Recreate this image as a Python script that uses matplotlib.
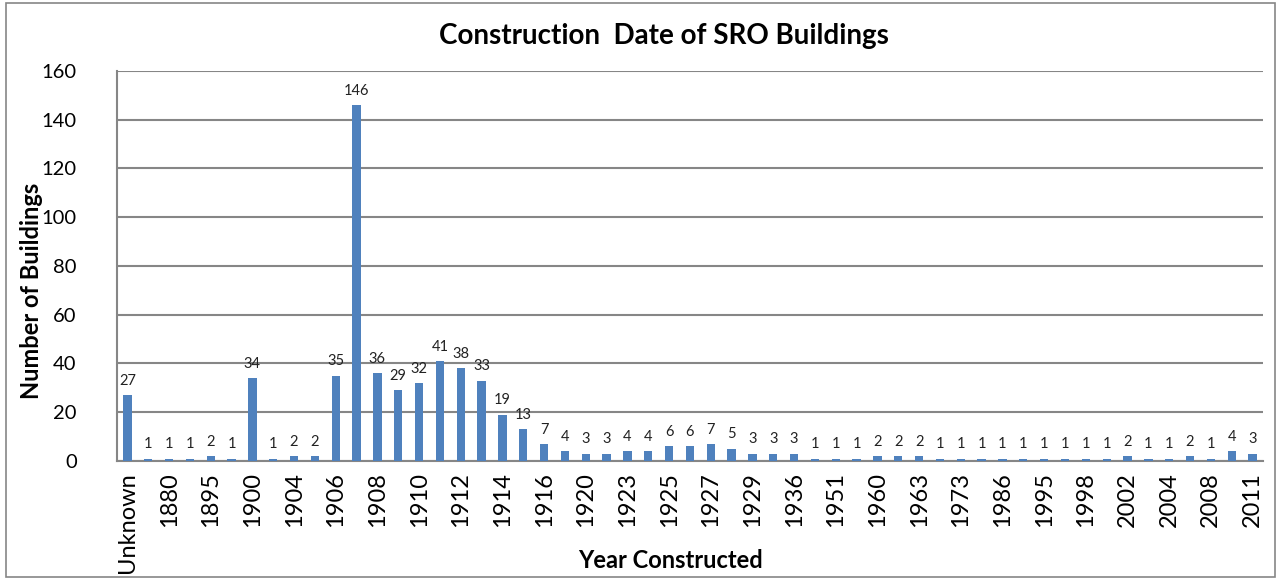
import numpy as np
import matplotlib.pyplot as plt

plt.rcParams['font.family'] = ['Lato', 'DejaVu Sans']

# years; only every other one is labelled on the axis
years = ['Unknown', '1875', '1880', '1890', '1895', '1898', '1900', '1903', '1904', '1905',
         '1906', '1907', '1908', '1909', '1910', '1911', '1912', '1913', '1914', '1915',
         '1916', '1918', '1920', '1922', '1923', '1924', '1925', '1926', '1927', '1928',
         '1929', '1930', '1936', '1940', '1951', '1955', '1960', '1962', '1963', '1970',
         '1973', '1980', '1986', '1990', '1995', '1997', '1998', '2000', '2002', '2003',
         '2004', '2005', '2008', '2010', '2011']
counts = [27, 1, 1, 1, 2, 1, 34, 1, 2, 2,
          35, 146, 36, 29, 32, 41, 38, 33, 19, 13,
          7, 4, 3, 3, 4, 4, 6, 6, 7, 5,
          3, 3, 3, 1, 1, 1, 2, 2, 2, 1,
          1, 1, 1, 1, 1, 1, 1, 1, 2, 1,
          1, 2, 1, 4, 3]

fig = plt.figure(figsize=(12.81, 5.8), dpi=100)
ax = fig.add_axes([0.0913, 0.2052, 0.8946, 0.6724])

x = np.arange(len(counts))
ax.bar(x, counts, width=0.4, color='#4F81BD', zorder=3)
for xi, v in zip(x, counts):
    ax.text(xi, v + 3, str(v), ha='center', va='bottom', fontsize=10.5, color='#222222')

ax.set_xlim(-0.5, len(counts) - 0.5)
ax.set_ylim(0, 160)
ax.set_yticks(np.arange(0, 161, 20))
ax.set_xticks(x[::2])
ax.set_xticklabels(years[::2], rotation=90, fontsize=17)
ax.tick_params(axis='y', labelsize=14.5, length=0, pad=29)
ax.tick_params(axis='x', length=0, pad=8)
ax.yaxis.grid(True, color='#868686', linewidth=1.5, zorder=0)

for s in ['top', 'right']:
    ax.spines[s].set_visible(False)
for s in ['left', 'bottom']:
    ax.spines[s].set_color('#868686')
    ax.spines[s].set_linewidth(1.5)

fig.text(664 / 1281, 1 - 36 / 580, 'Construction  Date of SRO Buildings',
         fontsize=20, fontweight='bold', ha='center', va='center')
fig.text(32 / 1281, 1 - 291 / 580, 'Number of Buildings', rotation=90,
         fontsize=17, fontweight='bold', ha='center', va='center')
fig.text(670 / 1281, 1 - 560 / 580, 'Year Constructed',
         fontsize=17, fontweight='bold', ha='center', va='center')

# outer chart border
fig.patches.append(plt.Rectangle((0.005, 0.005), 0.99, 0.99, transform=fig.transFigure,
                                 fill=False, edgecolor='#868686', linewidth=1.2))

fig.savefig('out.png', dpi=100)
